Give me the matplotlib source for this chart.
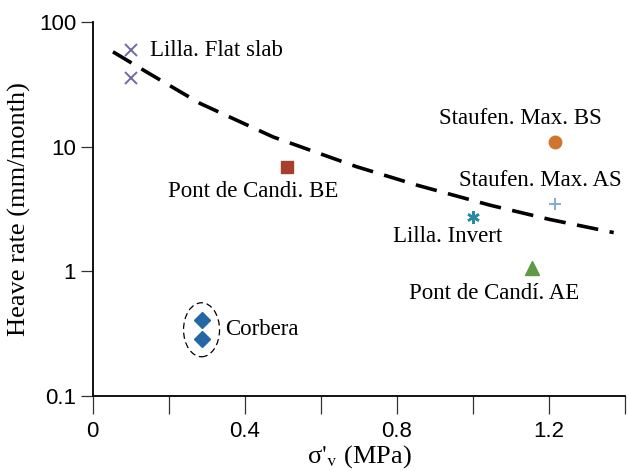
import numpy as np
import matplotlib.pyplot as plt
from matplotlib.patches import Ellipse
from matplotlib.transforms import ScaledTranslation

plt.rcParams['font.family'] = ['Liberation Serif', 'DejaVu Serif']
plt.rcParams['mathtext.fontset'] = 'stix'

# Case data: effective vertical stress (MPa) vs heave rate (mm/month)
lilla_flat_x = [0.10, 0.10]
lilla_flat_y = [59.6, 35.5]
pont_be_x = [0.51]
pont_be_y = [6.9]
staufen_bs_x = [1.216]
staufen_bs_y = [11.0]
staufen_as_x = [1.216]
staufen_as_y = [3.47]
lilla_inv_x = [1.0]
lilla_inv_y = [2.75]
pont_ae_x = [1.154]
pont_ae_y = [1.06]
corbera_x = [0.286, 0.286]
corbera_y = [0.407, 0.285]

# Trend line
trend_x = [0.053, 0.141, 0.282, 0.474, 0.694, 0.852, 1.045, 1.200, 1.370]
trend_y = [57.8, 39.9, 22.3, 12.0, 6.92, 4.93, 3.40, 2.62, 2.05]

xticks = [0, 0.2, 0.4, 0.6, 0.8, 1.0, 1.2, 1.4]
xticklabels = ['0', '', '0.4', '', '0.8', '', '1.2', '']
yticks = [0.1, 1, 10, 100]
yticklabels = ['0.1', '1', '10', '100']

fig = plt.figure(figsize=(6.27, 4.71), dpi=100)
ax = fig.add_axes([0.148, 0.159, 0.849, 0.794])

ax.plot(trend_x, trend_y, color='black', lw=2.6, linestyle=(0, (6, 3.2)))

ax.plot(lilla_flat_x, lilla_flat_y, 'x', color='#6e6c9c', ms=8.5, mew=1.4, ls='none')
ax.plot(pont_be_x, pont_be_y, 's', color='#a63f2e', ms=9, ls='none')
ax.plot(staufen_bs_x, staufen_bs_y, 'o', color='#d0752e', ms=9, ls='none')
ax.plot(staufen_as_x, staufen_as_y, '+', color='#7ba6d6', ms=9, mew=1.3, ls='none')
ax.plot(lilla_inv_x, lilla_inv_y, marker=(6, 2, 0), color='#2a8aa6', ms=9, mew=1.8, ls='none')
ax.plot(pont_ae_x, pont_ae_y, '^', color='#5f9a44', ms=10, ls='none')
ax.plot(corbera_x, corbera_y, 'D', color='#2467a4', ms=8.5, ls='none')

# dashed ellipse around Corbera
cy = np.sqrt(corbera_y[0] * corbera_y[1])
ell = Ellipse((0, 0), 0.36, 0.54, fill=False, ec='black', lw=0.9, ls=(0, (5, 3)),
              transform=fig.dpi_scale_trans + ScaledTranslation(corbera_x[0], cy, ax.transData))
ax.add_patch(ell)

fs = 16.5
ax.annotate('Lilla. Flat slab', (lilla_flat_x[0], lilla_flat_y[0]), xytext=(13.5, 0),
            textcoords='offset points', ha='left', va='center', fontsize=fs)
ax.annotate('Pont de Candi. BE', (pont_be_x[0], pont_be_y[0]), xytext=(-24, -18),
            textcoords='offset points', ha='center', va='center', fontsize=fs)
ax.annotate('Staufen. Max. BS', (staufen_bs_x[0], staufen_bs_y[0]), xytext=(-25, 17),
            textcoords='offset points', ha='center', va='center', fontsize=fs)
ax.annotate('Staufen. Max. AS', (staufen_as_x[0], staufen_as_y[0]), xytext=(-11, 17),
            textcoords='offset points', ha='center', va='center', fontsize=fs)
ax.annotate('Lilla. Invert', (lilla_inv_x[0], lilla_inv_y[0]), xytext=(-18, -14),
            textcoords='offset points', ha='center', va='center', fontsize=fs)
ax.annotate('Pont de Candí. AE', (pont_ae_x[0], pont_ae_y[0]), xytext=(-27, -18),
            textcoords='offset points', ha='center', va='center', fontsize=fs)
ax.annotate('Corbera', (corbera_x[0], cy), xytext=(17, 0),
            textcoords='offset points', ha='left', va='center', fontsize=fs)

ax.set_yscale('log')
ax.set_xlim(0, 1.4)
ax.set_ylim(0.1, 100)
ax.set_xticks(xticks)
ax.set_xticklabels(xticklabels, family='Liberation Sans', fontsize=16)
ax.set_yticks(yticks)
ax.set_yticklabels(yticklabels, family='Liberation Sans', fontsize=16)
ax.minorticks_off()
ax.tick_params(axis='x', direction='out', length=13, width=0.9, color='#333333', pad=5)
ax.tick_params(axis='y', direction='out', length=9, width=0.9, color='#333333', pad=3)

for s in ['top', 'right']:
    ax.spines[s].set_visible(False)
for s in ['left', 'bottom']:
    ax.spines[s].set_linewidth(1.3)

ax.set_xlabel(r"σ$'_{\mathrm{v}}$ (MPa)", fontsize=19)
ax.xaxis.set_label_coords(0.5, -0.125)
ax.set_ylabel('Heave rate (mm/month)', fontsize=19, labelpad=6)

fig.savefig('out.png', dpi=100)
